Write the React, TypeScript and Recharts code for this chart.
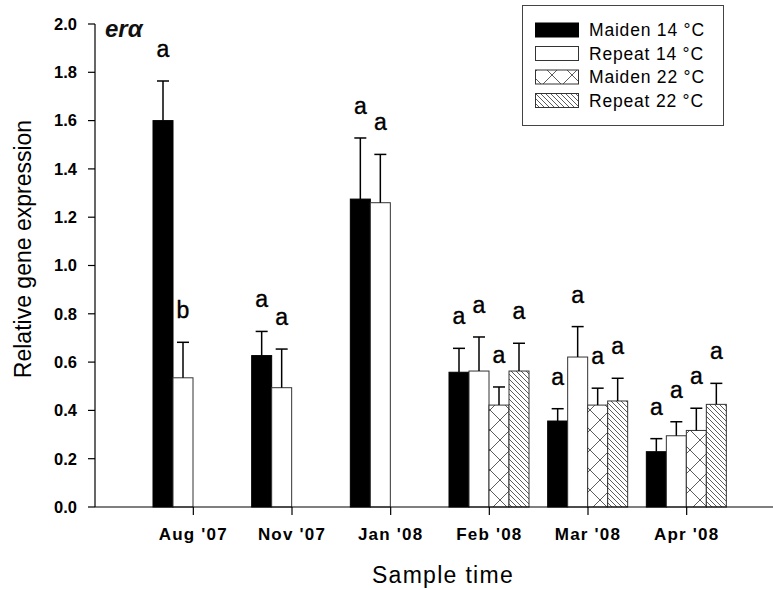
import React from "react";
import { BarChart, Bar, XAxis, YAxis, Legend } from "recharts";

const categories = ["Aug '07", "Nov '07", "Jan '08", "Feb '08", "Mar '08", "Apr '08"];
const maiden14 = [1.6, 0.627, 1.275, 0.558, 0.356, 0.229];
const maiden14Err = [0.164, 0.1, 0.253, 0.099, 0.051, 0.054];
const maiden14Sig = ["a", "a", "a", "a", "a", "a"];
const repeat14 = [0.535, 0.494, 1.26, 0.563, 0.621, 0.295];
const repeat14Err = [0.147, 0.16, 0.2, 0.141, 0.126, 0.058];
const repeat14Sig = ["b", "a", "a", "a", "a", "a"];
const maiden22 = [null, null, null, 0.422, 0.422, 0.317];
const maiden22Err = [null, null, null, 0.075, 0.07, 0.092];
const maiden22Sig = [null, null, null, "a", "a", "a"];
const repeat22 = [null, null, null, 0.563, 0.439, 0.425];
const repeat22Err = [null, null, null, 0.115, 0.094, 0.087];
const repeat22Sig = [null, null, null, "a", "a", "a"];
const yTicks = [0, 0.2, 0.4, 0.6, 0.8, 1.0, 1.2, 1.4, 1.6, 1.8, 2.0];

const seriesNames = ["Maiden 14 °C", "Repeat 14 °C", "Maiden 22 °C", "Repeat 22 °C"];

const data = categories.map((c, i) => ({
  cat: c,
  m14: maiden14[i], m14e: maiden14Err[i], m14s: maiden14Sig[i],
  r14: repeat14[i], r14e: repeat14Err[i], r14s: repeat14Sig[i],
  m22: maiden22[i], m22e: maiden22Err[i], m22s: maiden22Sig[i],
  r22: repeat22[i], r22e: repeat22Err[i], r22s: repeat22Sig[i],
}));

const FONT = "'Liberation Sans', Arial, sans-serif";

const styles = [
  { fill: "#000", stroke: "#000" },
  { fill: "#fff", stroke: "#333" },
  { fill: "url(#crossPat)", stroke: "#333" },
  { fill: "url(#hatchPat)", stroke: "#333" },
];

function makeShape(key: string, errKey: string, sigKey: string, st: any) {
  return (props: any) => {
    const { x, y, width, height, payload } = props;
    const v = payload?.[key];
    if (v == null || !height) return <g />;
    const err = payload[errKey] || 0;
    const errPx = (height / v) * err;
    const cx = x + width / 2;
    const top = y - errPx;
    const sig = payload[sigKey];
    return (
      <g>
        <rect x={x} y={y} width={width} height={height} fill={st.fill} stroke={st.stroke} strokeWidth={1} />
        <line x1={cx} x2={cx} y1={y} y2={top} stroke="#000" strokeWidth={1.5} />
        <line x1={cx - 6} x2={cx + 6} y1={top} y2={top} stroke="#000" strokeWidth={1.5} />
        {sig ? (
          <text x={cx} y={top - 24} textAnchor="middle" fontFamily={FONT} fontSize={23} fill="#000" stroke="#000" strokeWidth={0.4}>
            {sig}
          </text>
        ) : null}
      </g>
    );
  };
}

const LegendBox = () => (
  <svg width={203} height={122}>
    <rect x={0.5} y={0.5} width={201} height={120} fill="#fff" stroke="#444" strokeWidth={1} />
    {seriesNames.map((n, i) => {
      const cy = 25 + i * 23.5;
      return (
        <g key={n}>
          <rect x={13.5} y={cy - 7} width={43} height={14} fill={styles[i].fill} stroke={styles[i].stroke} strokeWidth={1} />
          <text x={67} y={cy + 6} fontFamily={FONT} fontSize={17.5} letterSpacing={0.8} fill="#000">{n}</text>
        </g>
      );
    })}
  </svg>
);

export default function App() {
  return (
    <div style={{ position: "absolute", left: 0, top: 0, width: 773, height: 590, background: "#fff" }}>
      <svg width={0} height={0} style={{ position: "absolute" }}>
        <defs>
          <pattern id="crossPat" width={20} height={20} patternUnits="userSpaceOnUse">
            <rect width={20} height={20} fill="#fff" />
            <path d="M0,0 L20,20 M20,0 L0,20" stroke="#333" strokeWidth={0.8} />
          </pattern>
          <pattern id="hatchPat" width={5} height={5} patternUnits="userSpaceOnUse">
            <rect width={5} height={5} fill="#fff" />
            <path d="M0,0 L5,5 M-1,4 L1,6 M4,-1 L6,1" stroke="#333" strokeWidth={0.8} />
          </pattern>
        </defs>
      </svg>
      <BarChart
        width={773}
        height={590}
        data={data}
        margin={{ top: 24, right: 0, bottom: 0, left: 35 }}
        barCategoryGap={9}
        barGap={0}
      >
        <XAxis
          dataKey="cat"
          padding={{ left: 49, right: 37 }}
          tickSize={8}
          tickMargin={13}
          axisLine={{ stroke: "#000", strokeWidth: 1.2 }}
          tickLine={{ stroke: "#000", strokeWidth: 1.2 }}
          tick={{ fontFamily: FONT, fontSize: 17, fontWeight: "bold", fill: "#000", letterSpacing: 1.2 }}
          height={83}
          label={{
            content: () => (
              <text x={443} y={583} textAnchor="middle" fontFamily={FONT} fontSize={23} letterSpacing={1.3} fill="#000">
                Sample time
              </text>
            ),
          }}
        />
        <YAxis
          domain={[0, 2]}
          ticks={yTicks}
          interval={0}
          width={60}
          tickSize={7}
          tickMargin={11}
          tickFormatter={(v: number) => v.toFixed(1)}
          axisLine={{ stroke: "#000", strokeWidth: 1.2 }}
          tickLine={{ stroke: "#000", strokeWidth: 1.2 }}
          tick={{ fontFamily: FONT, fontSize: 16.5, fontWeight: "bold", fill: "#000" }}
          label={{
            content: () => (
              <text
                x={31}
                y={249}
                transform="rotate(-90 31 249)"
                textAnchor="middle"
                fontFamily={FONT}
                fontSize={23}
                fill="#000"
              >
                Relative gene expression
              </text>
            ),
          }}
        />
        <Legend
          layout="vertical"
          align="center"
          verticalAlign="middle"
          content={() => <LegendBox />}
          wrapperStyle={{ position: "absolute", left: 522, top: 5, width: 203, height: 122 }}
        />
        <Bar dataKey="m14" name={seriesNames[0]} isAnimationActive={false} shape={makeShape("m14", "m14e", "m14s", styles[0])} />
        <Bar dataKey="r14" name={seriesNames[1]} isAnimationActive={false} shape={makeShape("r14", "r14e", "r14s", styles[1])} />
        <Bar dataKey="m22" name={seriesNames[2]} isAnimationActive={false} shape={makeShape("m22", "m22e", "m22s", styles[2])} />
        <Bar dataKey="r22" name={seriesNames[3]} isAnimationActive={false} shape={makeShape("r22", "r22e", "r22s", styles[3])} />
      </BarChart>
      <div
        style={{
          position: "absolute",
          left: 105,
          top: 16,
          fontFamily: FONT,
          fontSize: 24,
          fontWeight: "bold",
          fontStyle: "italic",
          color: "#111",
          lineHeight: "26px",
        }}
      >
        erα
      </div>
    </div>
  );
}
